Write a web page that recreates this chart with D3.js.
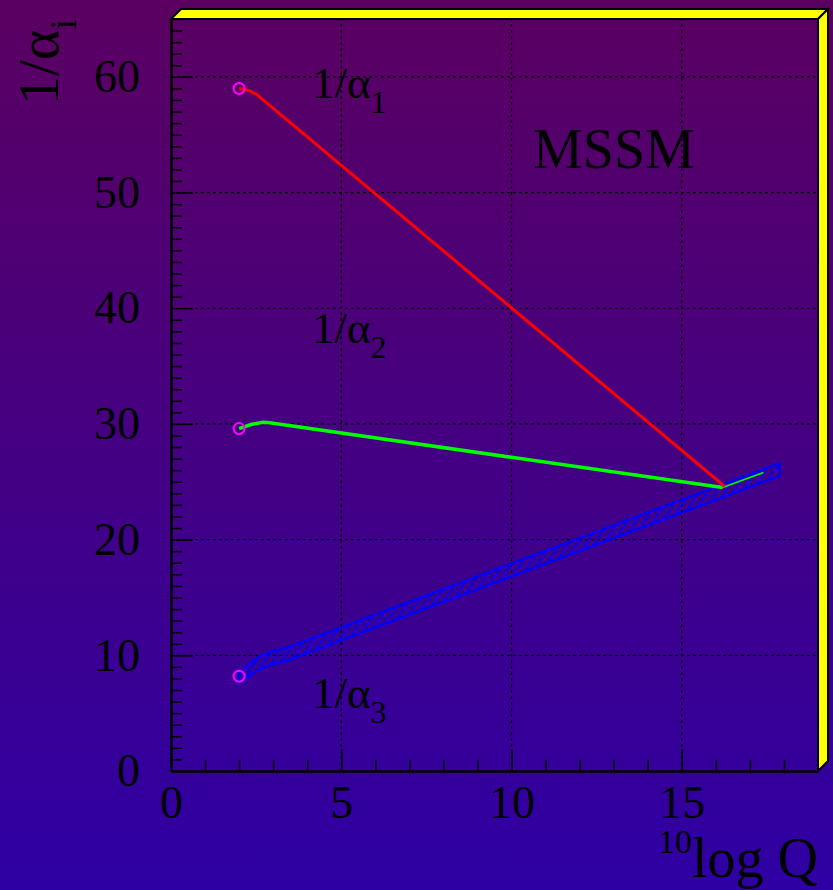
<!DOCTYPE html>
<html>
<head>
<meta charset="utf-8">
<script src="https://cdn.jsdelivr.net/npm/d3@7"></script>
<style>
  html, body { margin: 0; padding: 0; background: #000; }
  svg { display: block; }
  text { font-family: "Liberation Serif", "DejaVu Serif", serif; fill: #000; }
</style>
</head>
<body>
<svg id="chart" width="833" height="890"></svg>
<script>
// Running inverse gauge couplings in the MSSM versus 10log Q
const xTicksMajor = [0, 5, 10, 15];
const yTicksMajor = [0, 10, 20, 30, 40, 50, 60];

// 1/alpha_1 (U(1))
const alpha1Q = [2.0, 2.3, 2.5, 2.75, 16.26];
const alpha1V = [59.0, 58.8, 58.5, 57.9, 24.6];

// 1/alpha_2 (SU(2))
const alpha2Q = [2.0, 2.35, 2.7, 2.9, 16.2];
const alpha2V = [29.6, 29.95, 30.15, 30.1, 24.5];
const alpha2HighQ = [16.2, 17.4];
const alpha2HighV = [24.5, 25.8];

// 1/alpha_3 (SU(3)) uncertainty band
const alpha3Q = [2.0, 2.2, 2.4, 2.6, 2.8, 3.0, 3.4, 17.87];
const alpha3Upper = [8.4, 8.95, 9.45, 9.85, 10.15, 10.35, 10.65, 26.6];
const alpha3Lower = [7.6, 8.0, 8.45, 8.8, 9.05, 9.25, 9.55, 25.5];

// measured starting values at the Z mass
const startQ = [2.0, 2.0, 2.0];
const startV = [59.0, 29.6, 8.2];

(function draw() {
  const W = 833, H = 890;
  const pL = 171, pR = 818, pT = 19, pB = 771;
  const depth = { dx: 10, dy: 10 };

  const svg = d3.select("#chart");
  const defs = svg.append("defs");

  // canvas background gradient
  const grad = defs.append("linearGradient")
    .attr("id", "bg").attr("x1", 0).attr("y1", 0).attr("x2", 0).attr("y2", 1);
  grad.append("stop").attr("offset", "0%").attr("stop-color", "rgb(91,0,97)");
  grad.append("stop").attr("offset", "100%").attr("stop-color", "rgb(46,0,164)");
  svg.append("rect").attr("width", W).attr("height", H).attr("fill", "url(#bg)");

  // hatch pattern for the alpha_3 band
  const hatch = defs.append("pattern")
    .attr("id", "hatch").attr("patternUnits", "userSpaceOnUse")
    .attr("width", 7).attr("height", 7)
    .attr("patternTransform", "rotate(35)");
  hatch.append("line").attr("x1", 1).attr("y1", 0).attr("x2", 1).attr("y2", 7)
    .attr("stroke", "#0000ff").attr("stroke-width", 1.6);

  const x = d3.scaleLinear().domain([0, 19]).range([pL, pR]);
  const y = d3.scaleLinear().domain([0, 65]).range([pB, pT]);

  // dotted grid at major ticks
  const grid = svg.append("g").attr("stroke", "#000").attr("stroke-width", 1.2)
    .attr("stroke-dasharray", "3,3");
  grid.selectAll("line.h").data(yTicksMajor.filter(d => d > 0)).join("line")
    .attr("class", "h")
    .attr("x1", pL).attr("x2", pR).attr("y1", d => y(d)).attr("y2", d => y(d));
  grid.selectAll("line.v").data(xTicksMajor.filter(d => d > 0)).join("line")
    .attr("class", "v")
    .attr("y1", pB).attr("y2", pT).attr("x1", d => x(d)).attr("x2", d => x(d));

  // 3D frame sides
  const frame = svg.append("g").attr("fill", "#ffff00").attr("stroke", "#000")
    .attr("stroke-width", 2).attr("stroke-linejoin", "miter");
  frame.append("polygon").attr("points", [
    [pL, pT], [pL + depth.dx, pT - depth.dy], [pR + depth.dx, pT - depth.dy], [pR, pT]
  ].join(" "));
  frame.append("polygon").attr("points", [
    [pR, pT], [pR + depth.dx, pT - depth.dy], [pR + depth.dx, pB - depth.dy], [pR, pB]
  ].join(" "));

  // axes: minor and major ticks pointing inward
  const fontTick = 46;
  function styleAxis(g) {
    g.selectAll(".tick line").attr("stroke", "#000").attr("stroke-width", 1.5);
    g.select(".domain").attr("stroke", "#000").attr("stroke-width", 2.5);
    g.selectAll("text").attr("fill", "#000")
      .style("font-family", '"Liberation Serif", serif').style("font-size", fontTick + "px");
  }
  const yMinor = d3.range(0, 66).filter(v => v % 10 !== 0);
  const xMinor = d3.range(0, 19).filter(v => v % 5 !== 0);

  svg.append("g").attr("transform", `translate(${pL},0)`)
    .call(d3.axisLeft(y).tickValues(yMinor).tickSize(-11).tickSizeOuter(0).tickFormat(""))
    .call(g => { styleAxis(g); g.select(".domain").remove(); });
  svg.append("g").attr("transform", `translate(0,${pB})`)
    .call(d3.axisBottom(x).tickValues(xMinor).tickSize(-11).tickSizeOuter(0).tickFormat(""))
    .call(g => { styleAxis(g); g.select(".domain").remove(); });

  svg.append("g").attr("transform", `translate(${pL},0)`)
    .call(d3.axisLeft(y).tickValues(yTicksMajor).tickSize(-22).tickSizeOuter(0).tickPadding(31)
      .tickFormat(d3.format("d")))
    .call(styleAxis);
  svg.append("g").attr("transform", `translate(0,${pB})`)
    .call(d3.axisBottom(x).tickValues(xTicksMajor).tickSize(-22).tickSizeOuter(0).tickPadding(14)
      .tickFormat(d3.format("d")))
    .call(styleAxis);

  // alpha_3 band
  const band = d3.area()
    .x((d, i) => x(alpha3Q[i]))
    .y0((d, i) => y(alpha3Lower[i]))
    .y1((d, i) => y(alpha3Upper[i]));
  svg.append("path").datum(alpha3Q).attr("d", band)
    .attr("fill", "url(#hatch)").attr("stroke", "#0000ff").attr("stroke-width", 2.4)
    .attr("stroke-linejoin", "round");

  // alpha_2 and alpha_1 curves
  const line = d3.line();
  svg.append("path")
    .attr("d", line(alpha2HighQ.map((q, i) => [x(q), y(alpha2HighV[i])])))
    .attr("fill", "none").attr("stroke", "#00ff00").attr("stroke-width", 1.5);
  svg.append("path")
    .attr("d", line(alpha2Q.map((q, i) => [x(q), y(alpha2V[i])])))
    .attr("fill", "none").attr("stroke", "#00ff00").attr("stroke-width", 3.5)
    .attr("stroke-linejoin", "round");
  svg.append("path")
    .attr("d", line(alpha1Q.map((q, i) => [x(q), y(alpha1V[i])])))
    .attr("fill", "none").attr("stroke", "#ff0000").attr("stroke-width", 3)
    .attr("stroke-linejoin", "round");

  // starting points
  svg.selectAll("circle.start").data(startQ).join("circle")
    .attr("class", "start")
    .attr("cx", d => x(d)).attr("cy", (d, i) => y(startV[i])).attr("r", 5.5)
    .attr("fill", "none").attr("stroke", "#ff00ff").attr("stroke-width", 2);

  // curve labels
  function alphaLabel(px, py, sub) {
    const t = svg.append("text").attr("x", px).attr("y", py).style("font-size", "45px");
    t.append("tspan").text("1/α");
    t.append("tspan").attr("dy", 15).style("font-size", "32px").text(sub);
  }
  alphaLabel(312, 98, "1");
  alphaLabel(312, 343, "2");
  alphaLabel(312, 708, "3");

  svg.append("text").attr("x", 533).attr("y", 168).style("font-size", "56px").text("MSSM");

  // axis titles
  const yTitle = svg.append("text")
    .attr("transform", "translate(58,19) rotate(-90)")
    .attr("text-anchor", "end").style("font-size", "58px");
  yTitle.append("tspan").text("1/α");
  yTitle.append("tspan").attr("dy", 18).style("font-size", "38px").text("i");

  const xTitle = svg.append("text").attr("x", 818).attr("y", 877)
    .attr("text-anchor", "end").style("font-size", "56px");
  xTitle.append("tspan").attr("dy", -24).style("font-size", "34px").text("10");
  xTitle.append("tspan").attr("dy", 24).text("log Q");
})();
</script>
</body>
</html>
